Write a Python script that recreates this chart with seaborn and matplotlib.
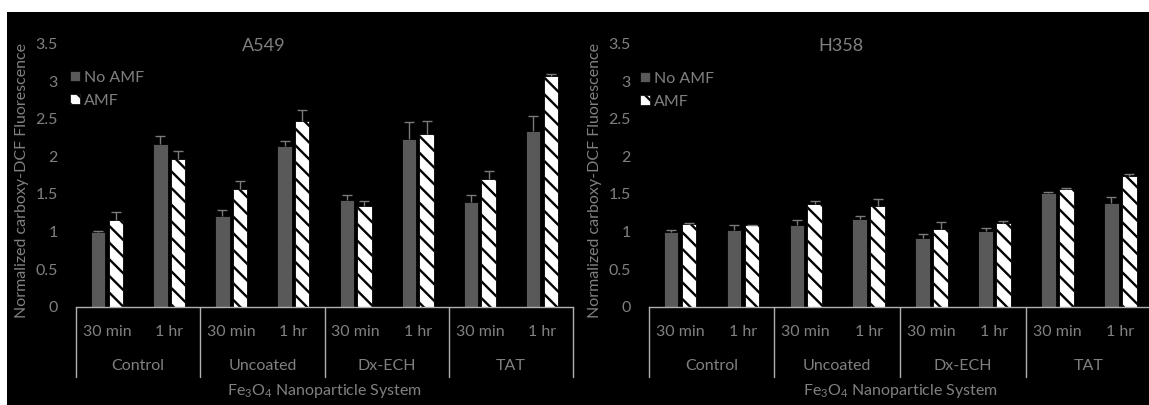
import numpy as np
import pandas as pd
import matplotlib
matplotlib.use("Agg")
import matplotlib.pyplot as plt
import seaborn as sns
from matplotlib.patches import Patch, Rectangle

# ---------------- data ----------------
groups = ["Control", "Uncoated", "Dx-ECH", "TAT"]
times = ["30 min", "1 hr"]
treatments = ["No AMF", "AMF"]

a549_noamf = [1.00, 2.16, 1.21, 2.14, 1.42, 2.23, 1.39, 2.33]
a549_amf = [1.15, 1.97, 1.57, 2.47, 1.335, 2.30, 1.70, 3.07]
a549_noamf_err = [0.01, 0.11, 0.08, 0.07, 0.06, 0.23, 0.09, 0.21]
a549_amf_err = [0.11, 0.10, 0.10, 0.14, 0.065, 0.17, 0.11, 0.02]

h358_noamf = [1.00, 1.02, 1.08, 1.17, 0.92, 1.01, 1.51, 1.375]
h358_amf = [1.10, 1.08, 1.37, 1.335, 1.03, 1.11, 1.565, 1.74]
h358_noamf_err = [0.02, 0.06, 0.07, 0.03, 0.05, 0.04, 0.02, 0.08]
h358_amf_err = [0.01, 0.01, 0.03, 0.10, 0.10, 0.03, 0.02, 0.02]

y_ticks = [0, 0.5, 1, 1.5, 2, 2.5, 3, 3.5]
y_tick_labels = ["0", "0.5", "1", "1.5", "2", "2.5", "3", "3.5"]
ylabel = "Normalized carboxy-DCF Fluorescence"
xlabel = r"Fe$_{3}$O$_{4}$ Nanoparticle System"

# ---------------- style ----------------
sns.set_theme(style="white")
plt.rcParams["font.family"] = ["Lato", "DejaVu Sans"]
plt.rcParams["mathtext.fontset"] = "custom"
plt.rcParams["mathtext.rm"] = "Lato"
plt.rcParams["mathtext.it"] = "Lato:italic"
plt.rcParams["mathtext.bf"] = "Lato:bold"
plt.rcParams["hatch.linewidth"] = 1.7
plt.rcParams["hatch.color"] = "black"

TXT = "#808080"
LINE = "#b0b0b0"
GRAY = "#595959"
FS = 11.5

W, H = 1149, 405
fig = plt.figure(figsize=(W / 100, H / 100), dpi=100, facecolor="white")
fig.add_artist(Rectangle((7 / W, 0), 1, (H - 12) / H, transform=fig.transFigure,
                         facecolor="black", edgecolor="none", zorder=-10))

y0 = 306.7
hpx = 263.2
axL = fig.add_axes([76 / W, (H - y0) / H, 497 / W, hpx / H])
axR = fig.add_axes([648.5 / W, (H - y0) / H, 503.3 / W, hpx / H])

cats = [f"{g} {t}" for g in groups for t in times]
time_labels = [t for g in groups for t in times]


def panel(ax, noamf, amf, noamf_err, amf_err, title, title_x, ylab_x, leg_x, leg_y):
    df = pd.DataFrame({
        "cat": cats * 2,
        "treatment": ["No AMF"] * len(cats) + ["AMF"] * len(cats),
        "value": list(noamf) + list(amf),
    })
    sns.barplot(data=df, x="cat", y="value", hue="treatment", order=cats,
                hue_order=treatments, palette={"No AMF": GRAY, "AMF": "white"},
                saturation=1, width=0.57, gap=0.186, edgecolor="black",
                linewidth=0.6, errorbar=None, legend=False, ax=ax)
    bars = list(ax.containers[:2])
    for p in bars[1]:
        p.set_hatch("\\\\")
    for cont, err in zip(bars, [noamf_err, amf_err]):
        xs = np.array([p.get_x() + p.get_width() / 2 for p in cont])
        ys = np.array([p.get_height() for p in cont])
        eb = ax.errorbar(xs, ys, yerr=[np.zeros(len(err)), err], fmt="none",
                         ecolor="#7a7a7a", elinewidth=1.0, capsize=3.3,
                         capthick=1.0, zorder=3)
        for c in eb[1]:
            if np.allclose(c.get_ydata(), ys):
                c.set_visible(False)

    ax.set_xlim(-0.5, 7.5)
    ax.set_ylim(0, 3.5)
    ax.set_yticks(y_ticks, y_tick_labels)
    ax.set_xticks([])
    ax.set_xlabel("")
    ax.set_ylabel("")
    ax.tick_params(axis="y", length=0, pad=13, labelsize=FS, labelcolor=TXT)
    ax.set_facecolor("none")
    for s in ["top", "right", "left"]:
        ax.spines[s].set_visible(False)
    ax.spines["bottom"].set_color(LINE)
    ax.spines["bottom"].set_linewidth(1.0)

    trans = ax.get_xaxis_transform()
    for i, t in enumerate(time_labels):
        ax.text(i, -0.096, t, transform=trans, ha="center", va="center",
                fontsize=FS, color=TXT)
    for gi, g in enumerate(groups):
        ax.text(2 * gi + 0.5, -0.225, g, transform=trans, ha="center",
                va="center", fontsize=FS, color=TXT)
    for xb in [-0.5, 1.5, 3.5, 5.5, 7.5]:
        ax.plot([xb, xb], [0, -0.267], transform=trans, color=LINE, lw=1.0,
                clip_on=False)
    ax.text(3.5, -0.32, xlabel, transform=trans, ha="center", va="center",
            fontsize=FS, color=TXT)
    ax.text(ylab_x, 0.478, ylabel, transform=ax.transAxes, rotation=90,
            ha="center", va="center", fontsize=FS, color=TXT)
    ax.text(title_x, 0.99, title, transform=ax.transAxes, ha="center",
            va="center", fontsize=13, color=TXT)

    handles = [Patch(facecolor=GRAY, edgecolor="black", linewidth=0.5),
               Patch(facecolor="white", edgecolor="black", linewidth=0.5,
                     hatch="\\\\")]
    leg = ax.legend(handles, treatments, loc="upper left",
                    bbox_to_anchor=(leg_x, leg_y), frameon=False,
                    borderaxespad=0, borderpad=0, fontsize=FS,
                    handlelength=0.6, handleheight=0.6, handletextpad=0.3,
                    labelspacing=0.55)
    for t in leg.get_texts():
        t.set_color(TXT)


panel(axL, a549_noamf, a549_amf, a549_noamf_err, a549_amf_err, "A549",
      0.378, -0.109, -0.012, 0.8955)
panel(axR, h358_noamf, h358_amf, h358_noamf_err, h358_amf_err, "H358",
      0.382, -0.106, -0.017, 0.8925)

fig.savefig("out.png", dpi=100, facecolor="white")
